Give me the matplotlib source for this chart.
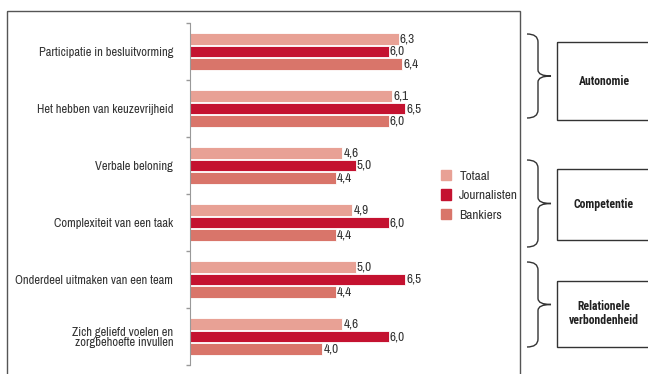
import matplotlib.pyplot as plt
import numpy as np
from matplotlib.patches import Rectangle, PathPatch
from matplotlib.path import Path

plt.rcParams['font.family'] = ['Archivo Narrow', 'DejaVu Sans']

categories = ["Participatie in besluitvorming", "Het hebben van keuzevrijheid",
              "Verbale beloning", "Complexiteit van een taak",
              "Onderdeel uitmaken van een team",
              "Zich geliefd voelen en\nzorgbehoefte invullen"]
series = ["Totaal", "Journalisten", "Bankiers"]
totaal = [6.3, 6.1, 4.6, 4.9, 5.0, 4.6]
journalisten = [6.0, 6.5, 5.0, 6.0, 6.5, 6.0]
bankiers = [6.4, 6.0, 4.4, 4.4, 4.4, 4.0]
colors = ["#e8a195", "#c41230", "#d9756a"]

groups = ["Autonomie", "Competentie", "Relationele\nverbondenheid"]

W, H = 648, 374
fig = plt.figure(figsize=(W / 100, H / 100), dpi=100)

# main bar axes (pixel placement)
ax = fig.add_axes([190 / W, 1 - 365 / H, 230 / W, 342 / H])
y = np.arange(len(categories))
bh = 0.21
off = 0.22
for vals, c, dy in zip([totaal, journalisten, bankiers], colors, [-off, 0, off]):
    bars = ax.barh(y + dy, vals, height=bh, color=c, edgecolor="white", linewidth=0.6)
    for b, v in zip(bars, vals):
        ax.text(v + 0.04, b.get_y() + b.get_height() / 2, f"{v:.1f}".replace(".", ","),
                va="center", ha="left", fontsize=9.5, color="#333333")

ax.set_xlim(0, 230 / 33.1)
ax.set_ylim(len(categories) - 0.5, -0.5)
ax.set_yticks(y)
ax.set_yticklabels(categories, fontsize=9, color="#333333", linespacing=1.0)
ax.tick_params(axis="y", which="major", length=0, pad=12)
ax.set_yticks(np.arange(-0.5, len(categories), 1), minor=True)
ax.tick_params(axis="y", which="minor", length=3, color="#999999", width=1)
ax.set_xticks([])
for s in ["top", "right", "bottom"]:
    ax.spines[s].set_visible(False)
ax.spines["left"].set_color("#999999")

handles = [Rectangle((0, 0), 1, 1, color=c) for c in colors]
fig.legend(handles, series, loc="upper left", bbox_to_anchor=(429 / W, 1 - 158 / H),
           frameon=False, fontsize=9.5, handlelength=0.8, handleheight=0.8,
           handletextpad=0.6, labelspacing=0.6, labelcolor="#333333")

# overlay for frame, braces and group boxes
ov = fig.add_axes([0, 0, 1, 1], zorder=-1)
ov.set_xlim(0, W)
ov.set_ylim(H, 0)
ov.axis("off")
ov.add_patch(Rectangle((7, 11), 513, 380, fill=False, edgecolor="#555555", lw=1))


def brace(top, bot, x0=527, x1=538, x2=551):
    mid = (top + bot) / 2
    verts = [(x0, top), (x1, top), (x1, top + 8),
             (x1, mid - 6), (x1, mid), (x2, mid),
             (x1, mid), (x1, mid + 6),
             (x1, bot - 8), (x1, bot), (x0, bot)]
    codes = [Path.MOVETO, Path.CURVE3, Path.CURVE3,
             Path.LINETO, Path.CURVE3, Path.CURVE3,
             Path.CURVE3, Path.CURVE3,
             Path.LINETO, Path.CURVE3, Path.CURVE3]
    ov.add_patch(PathPatch(Path(verts, codes), fill=False, edgecolor="#333333", lw=1))


boxes = [(34, 118, 42, 120), (160, 247, 169, 240), (262, 347, 281, 347)]
for name, (bt, bb, rt, rb) in zip(groups, boxes):
    brace(bt, bb)
    ov.add_patch(Rectangle((557, rt), 100, rb - rt, fill=False, edgecolor="#333333", lw=1))
    ov.text(604, (rt + rb) / 2, name, ha="center", va="center", fontsize=8.5,
            family=["Roboto Condensed", "DejaVu Sans"], fontweight="bold",
            color="#222222", linespacing=1.1)

fig.savefig("out.png", dpi=100)
